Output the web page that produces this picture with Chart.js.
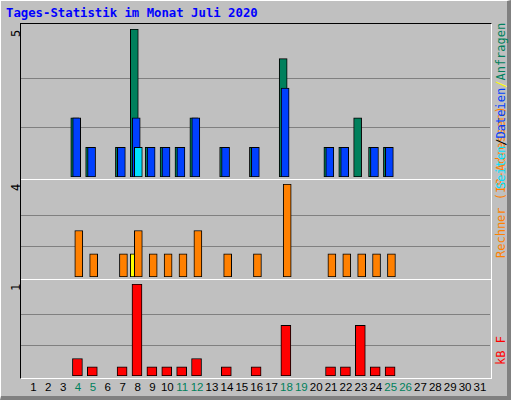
<!DOCTYPE html>
<html><head><meta charset="utf-8">
<script src="https://cdn.jsdelivr.net/npm/chart.js@4"></script>
<style>
body{margin:0;background:#fff;}
#frame{position:absolute;left:0;top:0;width:506px;height:395px;background:#c0c0c0;border-top:1px solid #fff;border-left:1px solid #fff;border-right:4px solid #808080;border-bottom:4px solid #808080;}
.txt{position:absolute;font-family:"DejaVu Sans Mono",monospace;font-size:12px;white-space:nowrap;}
.rot{transform-origin:0 0;transform:rotate(-90deg);}
canvas{position:absolute;}
.panel{position:absolute;left:20px;width:470px;border-top:1px solid #000;border-left:1px solid #000;border-right:1px solid #fff;border-bottom:1px solid #fff;}
.sep{position:absolute;left:21px;width:470px;height:1px;background:#fff;}
</style></head><body>
<div id="frame"></div>
<div class="panel" style="top:23px;height:354px;"></div>
<div class="sep" style="top:179px"></div>
<div class="sep" style="top:279px"></div>
<div class="txt" style="left:6px;top:6px;color:#0000ff;font-weight:bold;font-size:12.3px;">Tages-Statistik im Monat Juli 2020</div>
<div class="txt rot" style="left:9px;top:37px;">5</div>
<div class="txt rot" style="left:9px;top:191px;">4</div>
<div class="txt rot" style="left:9px;top:291px;">1</div>
<div class="txt rot" style="left:494px;top:258px;color:#ff8000;">Rechner (IP-Adressen)</div>
<div class="txt rot" style="left:494px;top:189px;"><span style="color:#00e0ff">Seiten</span><span>/</span><span style="color:#0040ff">Dateien</span><span style="color:#ffff00">/</span><span style="color:#00805c">Anfragen</span></div>
<div class="txt rot" style="left:494px;top:365px;color:#ff0000;">kB F</div>
<canvas id="c1"></canvas><canvas id="c2"></canvas><canvas id="c3"></canvas>
<div id="xl"></div>
<script>
const days = Array.from({length:31},(_,i)=>i+1);
const weekend = [4,5,11,12,18,19,25,26];
const hits  = [0,0,0,2,1,0,1,5,1,1,1,2,0,1,0,1,0,4,0,0,1,1,2,1,1,0,0,0,0,0,0];
const files = [0,0,0,2,1,0,1,2,1,1,1,2,0,1,0,1,0,3,0,0,1,1,0,1,1,0,0,0,0,0,0];
const pages = [0,0,0,0,0,0,0,1,0,0,0,0,0,0,0,0,0,0,0,0,0,0,0,0,0,0,0,0,0,0,0];
const sites = [0,0,0,0,0,0,0,1,0,0,0,0,0,0,0,0,0,0,0,0,0,0,0,0,0,0,0,0,0,0,0];
const visits= [0,0,0,2,1,0,1,2,1,1,1,2,0,1,0,1,0,4,0,0,1,1,1,1,1,0,0,0,0,0,0];
const kbytes= [0,0,0,0.19,0.1,0,0.1,1,0.1,0.1,0.1,0.19,0,0.1,0,0.1,0,0.55,0,0,0.1,0.1,0.55,0.1,0.1,0,0,0,0,0,0];
const maxTop=5, maxMid=4, maxBot=1;

const XMIN=0.17, XMAX=31.67, L=21, W=469;
function pts(arr,shift){return days.map((d,i)=>({x:d+shift,y:arr[i]}));}
function ds(arr,shift,color,th){return {data:pts(arr,shift),backgroundColor:color,borderColor:'#000',borderWidth:1,barThickness:th,grouped:false,borderSkipped:false};}
function mk(id,top,h,max,sets){
  const c=document.getElementById(id);
  c.style.left=L+'px';c.style.top=top+'px';c.style.width=W+'px';c.style.height=h+'px';
  return new Chart(c,{type:'bar',data:{datasets:sets},options:{
    responsive:false,animation:false,devicePixelRatio:1,
    layout:{padding:0},
    plugins:{legend:{display:false},tooltip:{enabled:false}},
    scales:{
      x:{type:'linear',min:XMIN,max:XMAX,display:false,offset:false},
      y:{min:0,max:max,display:true,border:{display:false},ticks:{display:false},
         grid:{color:'#808080',drawTicks:false,lineWidth:1},
         afterBuildTicks:s=>{s.ticks=[{value:max/3},{value:2*max/3}];}}
    }}});
}
function size(id,w,h){const c=document.getElementById(id);c.width=w;c.height=h;}
size('c1',W,148);size('c2',W,93);size('c3',W,92);
mk('c1',29,148,maxTop,[ds(pages,0.05,'#00e0ff',8),ds(files,-0.09,'#0040ff',8),ds(hits,-0.22,'#00805c',8)]);
mk('c2',184,93,maxMid,[ds(visits,0.05,'#ff8000',8),ds(sites,-0.22,'#ffff00',8)]);
const ch3=mk('c3',284,92,maxBot,[ds(kbytes,-0.04,'#ff0000',10)]);
const xl=document.getElementById('xl');
days.forEach(d=>{
  const s=document.createElement('div');s.className='txt';
  s.textContent=d;
  s.style.color=weekend.includes(d)?'#00805c':'#000';
  s.style.fontFamily='"Liberation Sans",sans-serif';s.style.fontSize='11.5px';
  s.style.top='381px';
  s.style.left=(L+ch3.scales.x.getPixelForValue(d))+'px';
  s.style.transform='translateX(-50%)';
  xl.appendChild(s);
});
</script></body></html>
